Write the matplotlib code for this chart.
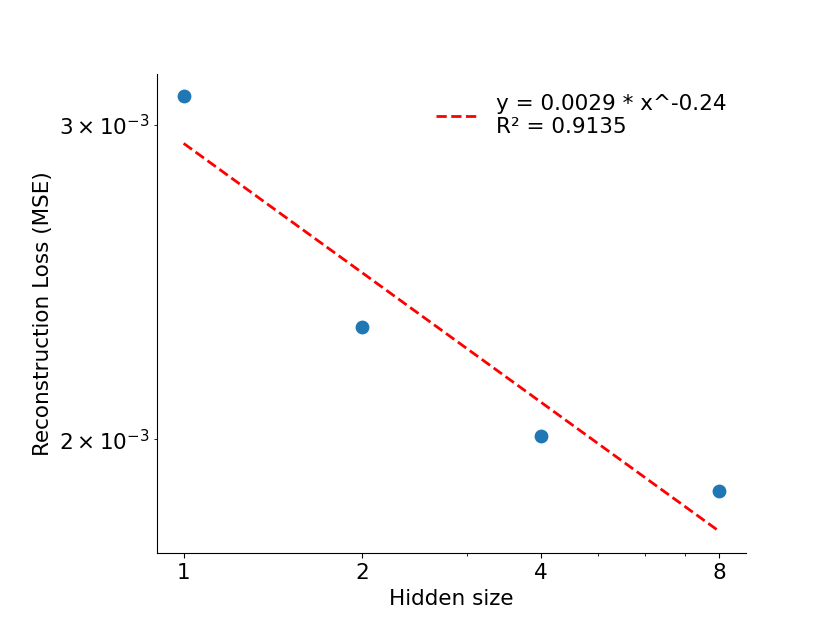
import numpy as np
import matplotlib
matplotlib.use("Agg")
import matplotlib.pyplot as plt
from matplotlib.ticker import ScalarFormatter, NullFormatter

# values
hidden_size = [1, 2, 4, 8]
mse = [3.114e-3, 2.311e-3, 2.0085e-3, 1.871e-3]
fit_label = "y = 0.0029 * x^-0.24\nR² = 0.9135"

# power-law fit in log space
b, loga = np.polyfit(np.log10(hidden_size), np.log10(mse), 1)
x_fit = np.array(hidden_size, dtype=float)
y_fit = 10 ** loga * x_fit ** b

plt.rcParams['font.size'] = 15.5

fig, ax = plt.subplots(figsize=(8.3, 6.23), dpi=100)
fig.subplots_adjust(left=0.189, right=0.899, bottom=0.112, top=0.881)

ax.scatter(hidden_size, mse, s=80, color='#1f77b4', zorder=3)
ax.plot(x_fit, y_fit, '--', color='red', linewidth=2, label=fit_label)

ax.set_xscale('log')
ax.set_yscale('log')
ax.set_xticks(hidden_size)
ax.xaxis.set_major_formatter(ScalarFormatter())
ax.xaxis.set_minor_formatter(NullFormatter())

ax.set_xlabel('Hidden size')
ax.set_ylabel('Reconstruction Loss (MSE)')
ax.spines['top'].set_visible(False)
ax.spines['right'].set_visible(False)
ax.legend(frameon=False, loc='upper right')

fig.savefig('out.png')
